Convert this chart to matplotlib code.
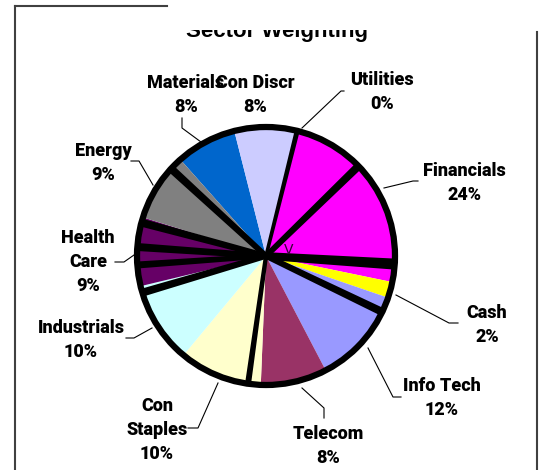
import numpy as np
import matplotlib.pyplot as plt
from matplotlib.patches import Polygon, Circle, Rectangle

# sector data, clockwise starting at Materials
sectors = ['Materials', 'Con Discr', 'Utilities', 'Financials', 'Cash', 'Info Tech',
           'Telecom', 'Con Staples', 'Industrials', 'Health Care', 'Energy']
label_names = ['Materials', 'Con Discr', 'Utilities', 'Financials', 'Cash', 'Info Tech',
               'Telecom', 'Con\nStaples', 'Industrials', 'Health\nCare', 'Energy']
weights = [7.6, 8.0, 0.0, 24.2, 2.0, 12.1, 8.3, 10.4, 10.2, 8.6, 8.6]
pct_labels = ['8%', '8%', '0%', '24%', '2%', '12%', '8%', '10%', '10%', '9%', '9%']
colors = ['#0066CC', '#CCCCFF', '#FF00FF', '#FF00FF', '#FFFF00', '#9999FF',
          '#993366', '#FFFFCC', '#CCFFFF', '#660066', '#808080']

# black bars over the pie (bearing in degrees clockwise from top, width at rim in px)
bar_angles = [14, 45.8, 93.6, 115.7, 188, 253.5, 266, 274, 285, 312.6]
bar_widths = [5, 8, 11, 8, 6, 8, 7, 8, 8, 8]

# layout in pixels (y down)
cx, cy, r = 266, 256, 129
start_bearing = 318.4
label_pos = [(186, 95), (255, 95), (382, 92), (464, 183), (487, 325), (442, 398),
             (328, 446), (157, 430), (81, 340), (88, 262), (103, 163)]
leaders = [
    [(182, 118), (182, 128), (201, 142)],
    None,
    [(344, 91), (341, 91), (302, 128)],
    [(418, 181), (413, 181), (384, 188)],
    [(458, 323), (449, 323), (396, 295)],
    [(401, 397), (393, 397), (368, 348)],
    [(324, 418), (324, 408), (302, 388)],
    [(188, 428), (198, 428), (218, 383)],
    [(126, 338), (134, 338), (152, 328)],
    [(115, 262), (124, 262), (134, 255)],
    [(131, 161), (139, 161), (153, 185)],
]

fig = plt.figure(figsize=(5.39, 4.70), dpi=100)
ax = fig.add_axes([0, 0, 1, 1])

# pie (y axis is flipped, so counterclock=True turns clockwise on screen)
ax.pie(weights, colors=colors, startangle=start_bearing - 90, counterclock=True,
       center=(cx, cy), radius=r, wedgeprops=dict(linewidth=0))
ax.set_xlim(0, 539)
ax.set_ylim(470, 0)
ax.set_aspect('equal')
ax.axis('off')

# black bars
for b, w in zip(bar_angles, bar_widths):
    t = np.deg2rad(b)
    d = np.array([np.sin(t), -np.cos(t)])
    p = np.array([np.cos(t), np.sin(t)])
    c = np.array([cx, cy])
    tip = c + d * r
    w0 = w * 0.7
    pts = [c + p * w0 / 2, tip + p * w / 2, tip - p * w / 2, c - p * w0 / 2]
    ax.add_patch(Polygon(pts, closed=True, facecolor='black', edgecolor='none', zorder=3))

ax.add_patch(Circle((cx, cy), r, facecolor='none', edgecolor='black', linewidth=4.5, zorder=4))

ax.text(289, 250, 'V', fontsize=10, color='#330033', ha='center', va='center', zorder=5)

# labels
for name, pct, pos, ld in zip(label_names, pct_labels, label_pos, leaders):
    ax.text(pos[0], pos[1], name + '\n' + pct, ha='center', va='center',
            fontsize=13, fontweight='heavy', family='Roboto', linespacing=1.45, zorder=6)
    if ld is not None:
        xs, ys = zip(*ld)
        ax.plot(xs, ys, color='black', linewidth=0.8, zorder=5)

# title, cut off at the top
ax.text(277.5, 36.5, 'Sector Weighting', ha='center', va='baseline', fontsize=16,
        fontweight='bold', family='Liberation Sans', zorder=6)
ax.add_patch(Rectangle((170, -5), 366, 34.5, facecolor='white', edgecolor='none', zorder=7))

# frame
ax.plot([15, 15], [470, 6], color='#404040', linewidth=1.5, zorder=8)
ax.plot([15, 167], [6, 6], color='#404040', linewidth=1.5, zorder=8)
ax.plot([537, 537], [32, 470], color='#404040', linewidth=1.5, zorder=8)

plt.savefig('out.png', dpi=100)
